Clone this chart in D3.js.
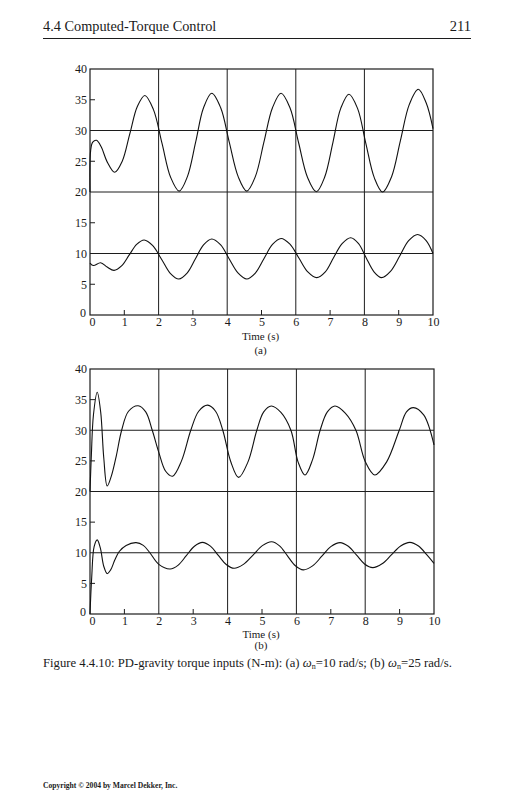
<!DOCTYPE html>
<html>
<head>
<meta charset="utf-8">
<script src="https://cdn.jsdelivr.net/npm/d3@7"></script>
<style>
  html, body { margin: 0; padding: 0; background: #fff; }
  svg { display: block; }
  text { font-family: "Liberation Serif", "DejaVu Serif", serif; fill: #1a1a1a; }
</style>
</head>
<body>
<svg id="chart" width="514" height="800"></svg>
<script>
// ---------- data ----------
const xTickValues = [0, 1, 2, 3, 4, 5, 6, 7, 8, 9, 10];
const yTickValues = [0, 5, 10, 15, 20, 25, 30, 35, 40];
const gridTimes = [2, 4, 6, 8];
const gridTorques = [10, 20, 30];
const minorTimes = [1, 3, 5, 7, 9];
const minorTorques = [5, 15, 25, 35];

// panel (a): wn = 10 rad/s
const timeA1 = [0, 0.02, 0.08, 0.19, 0.33, 0.5, 0.72, 0.94, 1.16, 1.38, 1.6, 1.85, 2.1, 2.35, 2.6,
  2.84, 3.08, 3.31, 3.55, 3.81, 4.06, 4.32, 4.57, 4.82, 5.07, 5.32, 5.57, 5.83, 6.08, 6.34, 6.6,
  6.84, 7.08, 7.31, 7.55, 7.8, 8.04, 8.29, 8.53, 8.79, 9.05, 9.31, 9.57, 9.8, 10];
const torqueA1 = [20, 26.8, 28.1, 28.4, 27.3, 24.9, 23.2, 25.0, 29.45, 33.9, 35.7, 33.4, 27.9, 22.4, 20.15,
  22.5, 28.1, 33.7, 36.05, 33.7, 28.1, 22.5, 20.15, 22.5, 28.1, 33.7, 36.05, 33.7, 28.05, 22.4, 20.05,
  22.4, 28.0, 33.6, 35.9, 33.6, 27.95, 22.3, 20.0, 22.45, 28.35, 34.25, 36.7, 34.5, 30.3];

const timeA2 = [0, 0.1, 0.31, 0.5, 0.7, 0.92, 1.14, 1.36, 1.58, 1.83, 2.09, 2.34, 2.59,
  2.83, 3.07, 3.31, 3.55, 3.81, 4.06, 4.32, 4.57, 4.82, 5.07, 5.32, 5.57, 5.83, 6.09, 6.35, 6.61,
  6.86, 7.1, 7.35, 7.6, 7.83, 8.05, 8.28, 8.5, 8.76, 9.03, 9.29, 9.55, 9.8, 10];
const torqueA2 = [8.45, 8.05, 8.5, 7.8, 7.25, 7.98, 9.73, 11.48, 12.2, 11.27, 9.03, 6.78, 5.85,
  6.8, 9.1, 11.4, 12.35, 11.4, 9.1, 6.8, 5.85, 6.82, 9.15, 11.48, 12.45, 11.52, 9.26, 7.0, 6.07,
  7.02, 9.32, 11.62, 12.57, 11.62, 9.32, 7.02, 6.07, 7.1, 9.59, 12.08, 13.1, 12.1, 10.0];

// panel (b): wn = 25 rad/s
const timeB1 = [0, 0.04, 0.1, 0.21, 0.31, 0.4, 0.5, 0.62, 0.76, 0.92, 1.12, 1.4, 1.62, 1.81, 2.0, 2.2, 2.4,
  2.66, 2.93, 3.16, 3.42, 3.65, 3.86, 4.09, 4.32, 4.59, 4.85, 5.05, 5.27, 5.55, 5.84, 6.05, 6.25,
  6.47, 6.69, 6.9, 7.12, 7.42, 7.73, 8.0, 8.28, 8.62, 8.99, 9.2, 9.4, 9.7, 10];
const torqueB1 = [20, 26.0, 32.5, 36.2, 33.0, 25.5, 20.9, 22.5, 25.7, 30.0, 33.1, 34.0, 33.0, 30.0, 26.4, 23.3, 22.5,
  25.0, 30.0, 33.1, 34.1, 33.1, 30.0, 24.9, 22.3, 24.8, 30.0, 33.0, 33.95, 32.9, 30.0, 24.8, 22.7,
  25.2, 30.0, 33.0, 33.96, 32.8, 30.0, 24.9, 22.7, 24.8, 30.0, 33.0, 33.7, 32.5, 27.6];

const timeB2 = [0, 0.05, 0.12, 0.21, 0.3, 0.4, 0.5, 0.6, 0.72, 0.85, 1.05, 1.34, 1.55, 1.74, 2.0, 2.33,
  2.565, 2.8, 3.035, 3.27, 3.5, 3.73, 3.96, 4.19, 4.46, 4.74, 5.01, 5.28, 5.51, 5.74, 5.97, 6.2,
  6.47, 6.74, 7.0, 7.27, 7.51, 7.75, 7.98, 8.22, 8.49, 8.76, 9.03, 9.3, 9.55, 9.8, 10];
const torqueB2 = [0, 6.0, 11.0, 12.1, 10.8, 7.8, 6.6, 7.2, 8.8, 10.2, 11.2, 11.65, 11.2, 10.0, 8.1, 7.35,
  7.99, 9.53, 11.07, 11.7, 11.08, 9.58, 8.08, 7.46, 8.1, 9.63, 11.16, 11.8, 11.13, 9.5, 7.87, 7.2,
  7.85, 9.43, 11.0, 11.65, 11.05, 9.61, 8.17, 7.57, 8.2, 9.64, 11.1, 11.7, 11.1, 9.6, 8.27];

const headerTitle = "4.4 Computed-Torque Control";
const pageNumber = "211";
const xAxisTitle = "Time (s)";
const panelLabels = ["(a)", "(b)"];
const copyrightText = "Copyright © 2004 by Marcel Dekker, Inc.";

// ---------- drawing ----------
const svg = d3.select("#chart");
const ink = "#1c1c1c";

// running header
svg.append("text").attr("x", 43).attr("y", 31).attr("font-size", 14.3).text(headerTitle);
svg.append("text").attr("x", 471).attr("y", 31).attr("font-size", 14.5).attr("text-anchor", "end").text(pageNumber);
svg.append("line").attr("x1", 43).attr("x2", 471).attr("y1", 38.5).attr("y2", 38.5)
  .attr("stroke", ink).attr("stroke-width", 1);

function zip(ts, vs) { return ts.map((t, i) => [t, vs[i]]); }

function drawPanel(cfg) {
  const x = d3.scaleLinear().domain([0, 10]).range([cfg.left, cfg.right]);
  const y = d3.scaleLinear().domain([0, 40]).range([cfg.bottom, cfg.top]);
  const g = svg.append("g");

  // grid lines
  g.selectAll(".gx").data(gridTimes).join("line")
    .attr("x1", d => x(d)).attr("x2", d => x(d))
    .attr("y1", y(0)).attr("y2", y(40))
    .attr("stroke", ink).attr("stroke-width", 1);
  g.selectAll(".gy").data(gridTorques).join("line")
    .attr("x1", x(0)).attr("x2", x(10))
    .attr("y1", d => y(d)).attr("y2", d => y(d))
    .attr("stroke", ink).attr("stroke-width", 1);

  // frame
  g.append("rect").attr("x", x(0)).attr("y", y(40))
    .attr("width", x(10) - x(0)).attr("height", y(0) - y(40))
    .attr("fill", "none").attr("stroke", ink).attr("stroke-width", 1.2);

  // minor ticks
  g.selectAll(".mx").data(minorTimes).join("line")
    .attr("x1", d => x(d)).attr("x2", d => x(d))
    .attr("y1", y(0)).attr("y2", y(0) - 5)
    .attr("stroke", ink).attr("stroke-width", 1);
  g.selectAll(".my").data(minorTorques).join("line")
    .attr("x1", x(0)).attr("x2", x(0) + 5)
    .attr("y1", d => y(d)).attr("y2", d => y(d))
    .attr("stroke", ink).attr("stroke-width", 1);

  // axes (labels)
  const ax = g.append("g").attr("transform", `translate(0,${y(0)})`)
    .call(d3.axisBottom(x).tickValues(xTickValues).tickSize(0).tickPadding(2.5).tickFormat(d3.format("d")));
  ax.select(".domain").remove();
  ax.selectAll("text").attr("font-family", "Liberation Serif, serif").attr("font-size", 12).attr("fill", ink);
  ax.selectAll(".tick").filter(d => d === 0).select("text").attr("dx", 2);

  const ay = g.append("g").attr("transform", `translate(${x(0)},0)`)
    .call(d3.axisLeft(y).tickValues(yTickValues).tickSize(0).tickPadding(3).tickFormat(d3.format("d")));
  ay.select(".domain").remove();
  ay.selectAll("text").attr("font-family", "Liberation Serif, serif").attr("font-size", 12).attr("fill", ink);
  ay.selectAll(".tick").filter(d => d === 0).select("text").attr("dy", "0.1em").attr("dx", -1);

  // curves
  const line = d3.line().x(d => x(d[0])).y(d => y(d[1])).curve(d3.curveCatmullRom.alpha(0.5));
  cfg.series.forEach(s => {
    g.append("path").datum(s).attr("d", line)
      .attr("fill", "none").attr("stroke", "#111").attr("stroke-width", 1.1);
  });

  // titles
  const cx = (cfg.left + cfg.right) / 2 - 1;
  g.append("text").attr("x", cx).attr("y", cfg.titleY).attr("text-anchor", "middle")
    .attr("font-size", 11).text(xAxisTitle);
  g.append("text").attr("x", cx).attr("y", cfg.labelY).attr("text-anchor", "middle")
    .attr("font-size", 11).text(cfg.label);
}

drawPanel({ left: 90, right: 433, top: 69, bottom: 315, titleY: 340, labelY: 354,
  label: panelLabels[0], series: [zip(timeA1, torqueA1), zip(timeA2, torqueA2)] });
drawPanel({ left: 90, right: 434, top: 369, bottom: 614, titleY: 638, labelY: 649,
  label: panelLabels[1], series: [zip(timeB1, torqueB1), zip(timeB2, torqueB2)] });

// caption
const cap = svg.append("text").attr("x", 43).attr("y", 667).attr("font-size", 12.7);
cap.append("tspan").text("Figure 4.4.10: PD-gravity torque inputs (N-m): (a) ");
cap.append("tspan").attr("font-style", "italic").text("ω");
cap.append("tspan").attr("font-size", 8).attr("dy", 2).text("n");
cap.append("tspan").attr("dy", -2).text("=10 rad/s; (b) ");
cap.append("tspan").attr("font-style", "italic").text("ω");
cap.append("tspan").attr("font-size", 8).attr("dy", 2).text("n");
cap.append("tspan").attr("dy", -2).text("=25 rad/s.");

// copyright
svg.append("text").attr("x", 43).attr("y", 788).attr("font-size", 7.6).attr("font-weight", "bold")
  .text(copyrightText);
</script>
</body>
</html>
